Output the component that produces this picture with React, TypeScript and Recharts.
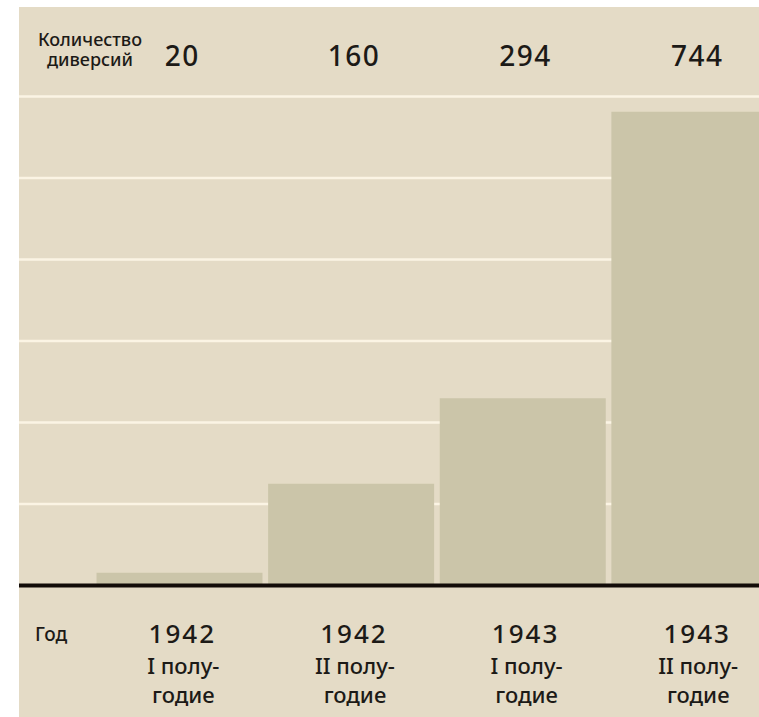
import { BarChart, Bar, XAxis, YAxis, CartesianGrid } from "recharts";

const periods = ["1942-I", "1942-II", "1943-I", "1943-II"];
const years = ["1942", "1942", "1943", "1943"];
const halves = ["I полу-", "II полу-", "I полу-", "II полу-"];
const halfEnd = "годие";
const diversions = [20, 160, 294, 744];
const gridTicks = [0, 128, 256, 384, 512, 640, 768];

const data = periods.map((p, i) => ({
  period: p,
  year: years[i],
  half: halves[i],
  count: diversions[i],
}));

const FONT = "Futura, 'Noto Sans', 'DejaVu Sans', sans-serif";
const INK = "#1c1a17";

function TopTick(props: any) {
  const { x, y, payload } = props;
  const row = data[payload.index];
  return (
    <text
      x={x + 3}
      y={y - 29}
      textAnchor="middle"
      fontFamily={FONT}
      fontSize={28}
      fontWeight={500}
      letterSpacing={1.5}
      fill={INK}
    >
      {row ? row.count : ""}
    </text>
  );
}

function BottomTick(props: any) {
  const { x, y, payload } = props;
  const row = data[payload.index];
  if (!row) return null;
  return (
    <g fontFamily={FONT} fill={INK} textAnchor="middle" fontWeight={500}>
      <text x={x + 3} y={y + 55} fontSize={26} letterSpacing={2}>
        {row.year}
      </text>
      <text x={x + 4} y={y + 86} fontSize={22}>
        {row.half}
      </text>
      <text x={x + 4} y={y + 115} fontSize={22}>
        {halfEnd}
      </text>
    </g>
  );
}

export default function App() {
  return (
    <div
      style={{
        position: "absolute",
        left: 0,
        top: 0,
        width: 759,
        height: 717,
        background: "#ffffff",
        overflow: "hidden",
      }}
    >
      <div
        style={{
          position: "absolute",
          left: 19,
          top: 7,
          width: 740,
          height: 710,
          background: "#E4DBC6",
          overflow: "hidden",
        }}
      >
        <BarChart
          width={761}
          height={710}
          data={data}
          margin={{ top: 0, right: 0, bottom: 0, left: 0 }}
        >
          <CartesianGrid vertical={false} stroke="#FBF4E4" strokeWidth={2.5} />
          <YAxis hide domain={[0, 768]} ticks={gridTicks} />
          <Bar dataKey="count" fill="#CBC5A9" barSize={166} isAnimationActive={false} />
          <XAxis
            xAxisId="top"
            orientation="top"
            dataKey="period"
            height={89.5}
            padding={{ left: 74.5, right: 0 }}
            axisLine={false}
            tickLine={false}
            tickSize={0}
            tick={<TopTick />}
            interval={0}
            label={{
              content: (p: any) => {
                const vb = p.viewBox || { x: 0, y: 0 };
                return (
                  <g fontFamily={FONT} fontSize={18} fontWeight={500} fill={INK} textAnchor="middle">
                    <text x={vb.x + 71} y={vb.y + 39}>Количество</text>
                    <text x={vb.x + 71} y={vb.y + 59}>диверсий</text>
                  </g>
                );
              },
            }}
          />
          <XAxis
            dataKey="period"
            height={131.5}
            padding={{ left: 74.5, right: 0 }}
            axisLine={{ stroke: "#120c08", strokeWidth: 4 }}
            tickLine={false}
            tickSize={0}
            tick={<BottomTick />}
            interval={0}
            label={{
              content: (p: any) => {
                const vb = p.viewBox || { x: 0, y: 0 };
                return (
                  <text
                    x={vb.x + 16}
                    y={vb.y + 55}
                    fontFamily={FONT}
                    fontSize={19}
                    fontWeight={500}
                    fill={INK}
                  >
                    Год
                  </text>
                );
              },
            }}
          />
        </BarChart>
      </div>
    </div>
  );
}
